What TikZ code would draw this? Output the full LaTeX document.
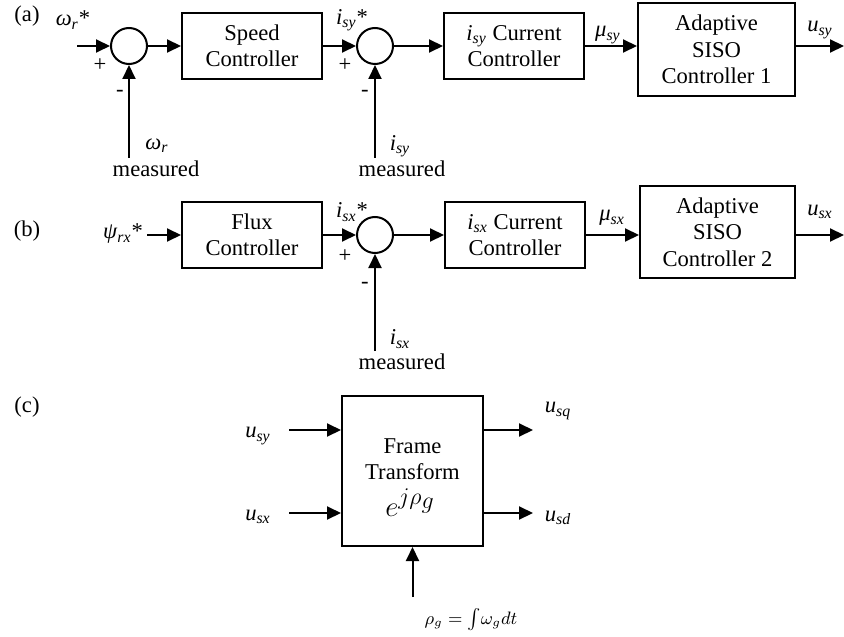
\documentclass[tikz,border=0pt]{standalone}
\usepackage{fontspec}
\setmainfont{Liberation Serif}
\usepackage{tikz}
\usetikzlibrary{arrows.meta,positioning,calc}

% italic variable with italic subscript
\newcommand{\vsub}[2]{\textit{#1}\textsubscript{\textit{#2}}}

\begin{document}
\begin{tikzpicture}[x=0.5pt, y=-0.5pt,
    font=\fontsize{11.3}{13.2}\selectfont,
    line width=1pt,
    block/.style={draw, line width=1pt, minimum width=70pt, minimum height=33pt, align=center, inner sep=1pt},
    sumnode/.style={draw, circle, minimum size=18pt, inner sep=0pt},
    sig/.style={-{Triangle[length=7pt,width=6.5pt]}},
    lbl/.style={inner sep=0pt}]
    \useasboundingbox (0,0) rectangle (844,636);

    % (a) speed loop
    \node[lbl] (taga) at (27,16) {(a)};
    \coordinate (wref) at (77,46);
    \node[sumnode] (sum1) at (129,46) {};
    \node[block] (speed) at (252,46) {Speed\\Controller};
    \node[sumnode] (sum2) at (375,46) {};
    \node[block] (cury) at (514,46) {\vsub{i}{sy} Current\\Controller};
    \node[block, minimum width=78.5pt, minimum height=46.5pt] (ada1) at (716.5,49.5) {Adaptive\\SISO\\Controller 1};
    \coordinate (usyout) at (844,46);
    \coordinate (wmeas) at (129,158);
    \coordinate (iymeas) at (375,158);

    \draw[sig] (wref) -- (sum1);
    \draw[sig] (sum1) -- (speed);
    \draw[sig] (speed) -- (sum2);
    \draw[sig] (sum2) -- (cury);
    \draw[sig] (cury) -- (ada1.west |- cury);
    \draw[sig] (ada1.east |- cury) -- (usyout);
    \draw[sig] (wmeas) -- (sum1);
    \draw[sig] (iymeas) -- (sum2);

    \node[lbl] (wrefl) at (73,20) {\vsub{ω}{r}*};
    \node[lbl] (p1) at (100,65) {+};
    \node[lbl] (m1) at (120,93) {-};
    \node[lbl] (wl) at (157,146) {\vsub{ω}{r}};
    \node[lbl] (meas1) at (156,169) {measured};
    \node[lbl] (iyrefl) at (352,20) {\vsub{i}{sy}*};
    \node[lbl] (p2) at (345,65) {+};
    \node[lbl] (m2) at (365,93) {-};
    \node[lbl] (iyl) at (400,146) {\vsub{i}{sy}};
    \node[lbl] (meas2) at (402,169) {measured};
    \node[lbl] (muyl) at (608,35) {\vsub{μ}{sy}};
    \node[lbl] (usyl) at (820,30) {\vsub{u}{sy}};

    % (b) flux loop
    \node[lbl] (tagb) at (27,231) {(b)};
    \node[lbl] (psil) at (123,234) {\vsub{ψ}{rx}*};
    \coordinate (psiref) at (147,235);
    \node[block] (flux) at (252,235) {Flux\\Controller};
    \node[sumnode] (sum3) at (375,235) {};
    \node[block] (curx) at (515,235) {\vsub{i}{sx} Current\\Controller};
    \node[block, minimum width=77.5pt, minimum height=46pt] (ada2) at (717.5,232) {Adaptive\\SISO\\Controller 2};
    \coordinate (usxout) at (844,235);
    \coordinate (ixmeas) at (375,351);

    \draw[sig] (psiref) -- (flux);
    \draw[sig] (flux) -- (sum3);
    \draw[sig] (sum3) -- (curx);
    \draw[sig] (curx) -- (ada2.west |- curx);
    \draw[sig] (ada2.east |- curx) -- (usxout);
    \draw[sig] (ixmeas) -- (sum3);

    \node[lbl] (ixrefl) at (352,212) {\vsub{i}{sx}*};
    \node[lbl] (p3) at (345,256) {+};
    \node[lbl] (m3) at (365,285) {-};
    \node[lbl] (ixl) at (400,339) {\vsub{i}{sx}};
    \node[lbl] (meas3) at (402,362) {measured};
    \node[lbl] (muxl) at (612,218) {\vsub{μ}{sx}};
    \node[lbl] (usxl) at (820,212) {\vsub{u}{sx}};

    % (c) frame transform
    \node[lbl] (tagc) at (27,407) {(c)};
    \node[block, minimum width=70.5pt, minimum height=75pt] (frame) at (412.5,471) {};
    \node[lbl, align=center] (frametxt) at (412.5,459) {Frame\\Transform};
    \node[lbl] (rot) at (410,503)
        {{\fontsize{15}{15}\selectfont$e$}\raisebox{6pt}{\fontsize{12}{12}\selectfont$j\rho_{\textstyle g}$}};
    \coordinate (uyin) at (289,430);
    \coordinate (uxin) at (289,513);
    \coordinate (uqout) at (533,430);
    \coordinate (udout) at (533,513);
    \coordinate (rhoin) at (412.5,597);

    \draw[sig] (uyin) -- (frame.west |- uyin);
    \draw[sig] (uxin) -- (frame.west |- uxin);
    \draw[sig] (frame.east |- uqout) -- (uqout);
    \draw[sig] (frame.east |- udout) -- (udout);
    \draw[sig] (rhoin) -- (frame.south);

    \node[lbl] (uyl) at (258,436) {\vsub{u}{sy}};
    \node[lbl] (uxl) at (258,517) {\vsub{u}{sx}};
    \node[lbl] (uql) at (558,411) {\vsub{u}{sq}};
    \node[lbl] (udl) at (558,518) {\vsub{u}{sd}};
    \node[lbl] (rhol) at (471,620) {\fontsize{9}{9}\selectfont$\rho_g = \int\!\omega_g dt$};
\end{tikzpicture}
\end{document}
